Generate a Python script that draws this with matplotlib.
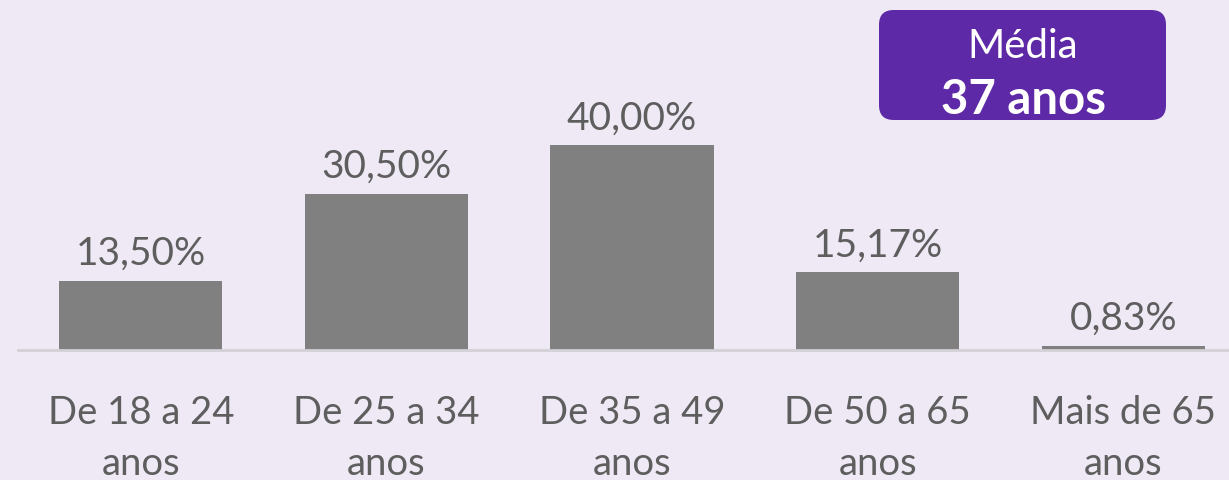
import matplotlib.pyplot as plt
import matplotlib.patches as patches

categorias = ["De 18 a 24\nanos", "De 25 a 34\nanos", "De 35 a 49\nanos", "De 50 a 65\nanos", "Mais de 65\nanos"]
valores = [13.50, 30.50, 40.00, 15.17, 0.83]
rotulos = ["13,50%", "30,50%", "40,00%", "15,17%", "0,83%"]
media_titulo = "Média"
media_valor = "37 anos"

fundo = "#EFE9F5"
cinza = "#808080"
texto = "#5E5E5E"
roxo = "#5E29A6"

W, H = 1229, 481
fig = plt.figure(figsize=(W / 100, H / 100), dpi=100)
fig.patch.set_facecolor(fundo)

ax = fig.add_axes([18 / W, 130 / H, 1 - 18 / W, 351 / H])
ax.set_facecolor(fundo)
x = range(len(valores))
ax.bar(x, valores, width=0.665, color=cinza)
ax.set_xlim(-0.5, 4.43)
ax.set_ylim(0, 68.5)
for s in ["top", "right", "left"]:
    ax.spines[s].set_visible(False)
ax.spines["bottom"].set_color("#D3D0D6")
ax.spines["bottom"].set_linewidth(2)
ax.set_yticks([])
ax.set_xticks(list(x))
ax.set_xticklabels(categorias, fontsize=27.5, color=texto, family="Lato",
                   fontweight="normal", linespacing=1.5)
ax.tick_params(axis="x", length=0, pad=32)

for xi, v, r in zip(x, valores, rotulos):
    ax.annotate(r, (xi, v), xytext=(0, 7), textcoords="offset points",
                ha="center", va="bottom", fontsize=28, color=texto,
                family="Lato", fontweight="normal")

# caixa da média
box = patches.FancyBboxPatch((879 / W, 1 - 121 / H), (1166 - 879) / W, 110 / H,
                             boxstyle="round,pad=0,rounding_size=0.012",
                             transform=fig.transFigure, facecolor=roxo,
                             edgecolor="none", mutation_aspect=W / H)
fig.patches.append(box)
fig.text(1023 / W, 1 - 46 / H, media_titulo, ha="center", va="center",
         fontsize=29, color="white", family="Lato", fontweight="normal")
fig.text(1023 / W, 1 - 100 / H, media_valor, ha="center", va="center",
         fontsize=34, color="white", family="Lato", fontweight="bold")

fig.savefig("out.png", dpi=100, facecolor=fundo)
